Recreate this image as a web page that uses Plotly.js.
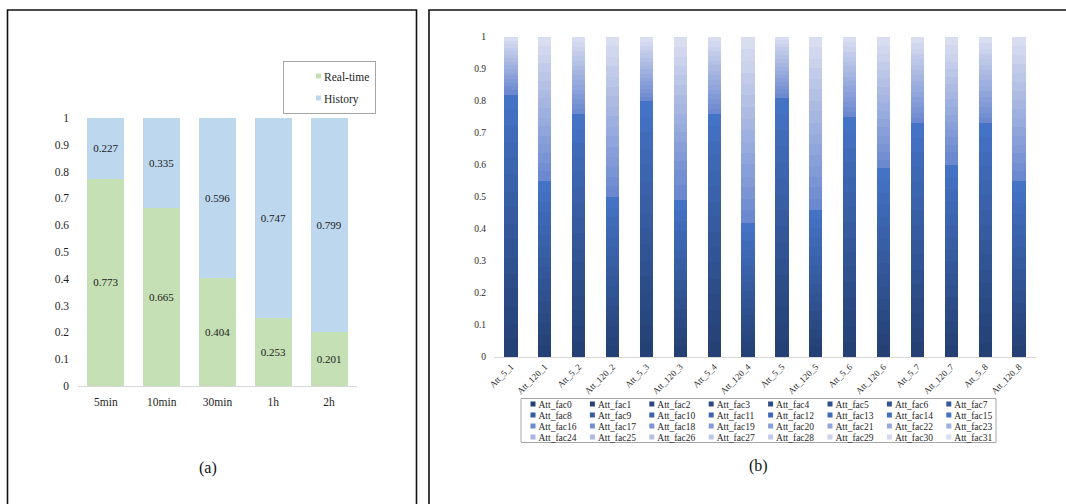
<!DOCTYPE html>
<html>
<head>
<meta charset="utf-8">
<script src="https://cdn.plot.ly/plotly-3.0.1.min.js"></script>
<style>
  html, body { margin: 0; padding: 0; background: #ffffff; }
  #chart { width: 1066px; height: 504px; }
</style>
</head>
<body>
<div id="chart"></div>
<script>
// ---------- Panel (a) data ----------
const windows  = ['5min', '10min', '30min', '1h', '2h'];
const realTime = [0.773, 0.665, 0.404, 0.253, 0.201];
const history  = [0.227, 0.335, 0.596, 0.747, 0.799];

// ---------- Panel (b) data ----------
const attCategories = ['Att_5_1', 'Att_120_1', 'Att_5_2', 'Att_120_2', 'Att_5_3', 'Att_120_3', 'Att_5_4', 'Att_120_4',
                       'Att_5_5', 'Att_120_5', 'Att_5_6', 'Att_120_6', 'Att_5_7', 'Att_120_7', 'Att_5_8', 'Att_120_8'];
const factorNames = ['Att_fac0', 'Att_fac1', 'Att_fac2', 'Att_fac3', 'Att_fac4', 'Att_fac5', 'Att_fac6', 'Att_fac7',
                     'Att_fac8', 'Att_fac9', 'Att_fac10', 'Att_fac11', 'Att_fac12', 'Att_fac13', 'Att_fac14', 'Att_fac15',
                     'Att_fac16', 'Att_fac17', 'Att_fac18', 'Att_fac19', 'Att_fac20', 'Att_fac21', 'Att_fac22', 'Att_fac23',
                     'Att_fac24', 'Att_fac25', 'Att_fac26', 'Att_fac27', 'Att_fac28', 'Att_fac29', 'Att_fac30', 'Att_fac31'];

// attention share of each factor (fac0 ... fac31) for every bar
const att_5_1   = [0.055,0.048,0.052,0.060,0.045,0.050,0.058,0.047,0.053,0.049,0.056,0.051,0.044,0.057,0.050,0.045,
                   0.014,0.012,0.010,0.013,0.011,0.009,0.012,0.010,0.011,0.013,0.010,0.012,0.009,0.011,0.010,0.013];
const att_120_1 = [0.038,0.032,0.036,0.030,0.040,0.033,0.035,0.037,0.031,0.034,0.036,0.032,0.038,0.033,0.030,0.035,
                   0.030,0.026,0.032,0.028,0.025,0.030,0.027,0.029,0.031,0.026,0.028,0.030,0.027,0.025,0.029,0.027];
const att_5_2   = [0.050,0.046,0.052,0.044,0.049,0.055,0.043,0.047,0.051,0.045,0.048,0.050,0.046,0.044,0.042,0.048,
                   0.016,0.014,0.017,0.015,0.013,0.016,0.014,0.015,0.017,0.013,0.015,0.016,0.014,0.015,0.013,0.017];
const att_120_2 = [0.033,0.029,0.035,0.030,0.032,0.028,0.034,0.031,0.030,0.033,0.029,0.032,0.030,0.031,0.028,0.035,
                   0.034,0.030,0.033,0.029,0.031,0.035,0.028,0.032,0.030,0.034,0.029,0.031,0.033,0.030,0.032,0.029];
const att_5_3   = [0.052,0.047,0.055,0.049,0.051,0.046,0.053,0.050,0.048,0.054,0.045,0.052,0.049,0.051,0.047,0.051,
                   0.013,0.011,0.014,0.012,0.013,0.010,0.012,0.014,0.011,0.013,0.012,0.014,0.011,0.013,0.012,0.015];
const att_120_3 = [0.031,0.028,0.033,0.030,0.029,0.032,0.027,0.031,0.030,0.034,0.029,0.031,0.028,0.032,0.030,0.035,
                   0.048,0.045,0.030,0.028,0.032,0.029,0.027,0.031,0.030,0.028,0.033,0.029,0.030,0.028,0.031,0.031];
const att_5_4   = [0.049,0.053,0.045,0.050,0.047,0.052,0.048,0.046,0.051,0.044,0.049,0.047,0.050,0.043,0.048,0.038,
                   0.015,0.017,0.014,0.016,0.013,0.015,0.016,0.014,0.015,0.017,0.013,0.016,0.014,0.015,0.016,0.014];
const att_120_4 = [0.027,0.024,0.028,0.025,0.026,0.023,0.027,0.025,0.028,0.024,0.026,0.027,0.025,0.029,0.026,0.030,
                   0.038,0.035,0.037,0.034,0.039,0.036,0.033,0.037,0.035,0.038,0.036,0.034,0.037,0.035,0.038,0.038];
const att_5_5   = [0.054,0.049,0.052,0.047,0.055,0.050,0.048,0.053,0.051,0.046,0.052,0.049,0.054,0.050,0.047,0.053,
                   0.012,0.014,0.011,0.013,0.012,0.010,0.013,0.012,0.011,0.014,0.012,0.011,0.013,0.010,0.012,0.010];
const att_120_5 = [0.030,0.027,0.029,0.031,0.026,0.028,0.030,0.027,0.032,0.028,0.029,0.027,0.030,0.028,0.029,0.029,
                   0.034,0.036,0.032,0.035,0.033,0.037,0.031,0.034,0.036,0.033,0.035,0.032,0.034,0.030,0.038,0.030];
const att_5_6   = [0.048,0.045,0.050,0.044,0.047,0.049,0.046,0.043,0.051,0.047,0.045,0.048,0.046,0.044,0.050,0.047,
                   0.016,0.015,0.017,0.014,0.016,0.018,0.015,0.014,0.016,0.017,0.015,0.016,0.014,0.015,0.016,0.016];
const att_120_6 = [0.038,0.035,0.039,0.036,0.034,0.037,0.040,0.035,0.038,0.036,0.037,0.034,0.039,0.036,0.038,0.038,
                   0.027,0.024,0.026,0.025,0.028,0.023,0.026,0.027,0.024,0.025,0.026,0.027,0.024,0.026,0.025,0.027];
const att_5_7   = [0.047,0.044,0.046,0.048,0.043,0.045,0.049,0.044,0.047,0.046,0.042,0.048,0.045,0.047,0.043,0.046,
                   0.017,0.016,0.018,0.015,0.017,0.016,0.019,0.015,0.017,0.018,0.016,0.017,0.015,0.018,0.016,0.020];
const att_120_7 = [0.038,0.036,0.040,0.037,0.035,0.039,0.037,0.038,0.036,0.040,0.037,0.035,0.038,0.039,0.036,0.039,
                   0.040,0.022,0.025,0.023,0.024,0.022,0.026,0.023,0.024,0.025,0.022,0.023,0.024,0.025,0.026,0.026];
const att_5_8   = [0.045,0.048,0.044,0.047,0.046,0.043,0.049,0.045,0.047,0.044,0.048,0.046,0.045,0.043,0.047,0.043,
                   0.018,0.016,0.017,0.015,0.018,0.016,0.017,0.019,0.015,0.016,0.017,0.018,0.016,0.015,0.017,0.020];
const att_120_8 = [0.035,0.033,0.036,0.034,0.032,0.037,0.035,0.033,0.036,0.034,0.035,0.032,0.036,0.034,0.033,0.035,
                   0.030,0.027,0.029,0.028,0.026,0.030,0.028,0.027,0.029,0.026,0.028,0.030,0.027,0.029,0.028,0.028];

const attBars = [att_5_1, att_120_1, att_5_2, att_120_2, att_5_3, att_120_3, att_5_4, att_120_4,
                 att_5_5, att_120_5, att_5_6, att_120_6, att_5_7, att_120_7, att_5_8, att_120_8];

// ---------- styling ----------
const W = 1066, H = 504;
const px = v => v / W;
const py = v => 1 - v / H;
const FONT = 'Liberation Serif';

function mix(a, b, t) {
  return 'rgb(' + a.map((c, i) => Math.round(c + (b[i] - c) * t)).join(',') + ')';
}
const darkA = [37, 64, 116], darkB = [68, 114, 196];
const lightA = [108, 137, 208], lightB = [216, 221, 240];
const factorColors = factorNames.map((_, i) =>
  i < 16 ? mix(darkA, darkB, i / 15) : mix(lightA, lightB, (i - 16) / 15));

// ---------- traces ----------
const traces = [];
traces.push({
  type: 'bar', name: 'Real-time', x: windows, y: realTime,
  xaxis: 'x', yaxis: 'y', width: 0.66,
  marker: { color: '#c5e0b4', line: { width: 0 } },
  text: realTime.map(v => v.toFixed(3)), textposition: 'inside', insidetextanchor: 'middle',
  textangle: 0, textfont: { family: FONT, size: 11, color: '#1a1a1a' },
  legend: 'legend', legendgroup: 'rt', hoverinfo: 'skip'
});
traces.push({
  type: 'bar', name: 'History', x: windows, y: history,
  xaxis: 'x', yaxis: 'y', width: 0.66,
  marker: { color: '#bdd7ee', line: { width: 0 } },
  text: history.map(v => v.toFixed(3)), textposition: 'inside', insidetextanchor: 'middle',
  textangle: 0, textfont: { family: FONT, size: 11, color: '#1a1a1a' },
  legend: 'legend', legendgroup: 'hi', hoverinfo: 'skip'
});
factorNames.forEach((name, f) => {
  const t = {
    type: 'bar', name: name, x: attCategories, y: attBars.map(b => b[f]),
    xaxis: 'x2', yaxis: 'y2', width: 0.39,
    marker: { color: factorColors[f], line: { width: 0 } },
    legend: 'legend' + (2 + Math.floor(f / 8)), hoverinfo: 'skip'
  };
  if (f % 8 === 7) t.legendwidth = 45;   // last column: leave room for the full label
  traces.push(t);
});

// ---------- layout ----------
const rowLegend = (rowCenter) => ({
  orientation: 'h', x: px(498.5), xanchor: 'left', y: py(rowCenter - 14.5), yanchor: 'top',
  entrywidth: 14.4, entrywidthmode: 'pixels', traceorder: 'normal',
  font: { family: FONT, size: 9.5, color: '#1f1f1f' },
  bgcolor: 'rgba(0,0,0,0)', borderwidth: 0
});

const layout = {
  width: W, height: H,
  margin: { l: 0, r: 0, t: 0, b: 0 },
  paper_bgcolor: '#ffffff', plot_bgcolor: 'rgba(0,0,0,0)',
  barmode: 'stack', showlegend: true,
  font: { family: FONT, color: '#1f1f1f' },
  xaxis: {
    domain: [px(78), px(357)], anchor: 'y', type: 'category', range: [-0.5, 4.5],
    showline: true, linecolor: '#d9d9d9', linewidth: 1, ticks: '', showgrid: false, zeroline: false,
    tickfont: { family: FONT, size: 11.5, color: '#1f1f1f' }, ticklabelstandoff: 5, fixedrange: true
  },
  yaxis: {
    domain: [py(386), py(118)], anchor: 'x', range: [0, 1], tick0: 0, dtick: 0.1,
    showgrid: false, zeroline: false, showline: false, ticks: '',
    tickfont: { family: FONT, size: 11.5, color: '#1f1f1f' }, ticklabelstandoff: 8, fixedrange: true
  },
  xaxis2: {
    domain: [px(494), px(1036)], anchor: 'y2', type: 'category', range: [-0.5, 15.5],
    showline: true, linecolor: '#d9d9d9', linewidth: 1, ticks: '', showgrid: false, zeroline: false,
    tickangle: -45, tickfont: { family: FONT, size: 9, color: '#1f1f1f' }, fixedrange: true
  },
  yaxis2: {
    domain: [py(357), py(37)], anchor: 'x2', range: [0, 1], tick0: 0, dtick: 0.1,
    showgrid: false, zeroline: false, showline: false, ticks: '',
    tickfont: { family: FONT, size: 9.5, color: '#1f1f1f' }, ticklabelstandoff: 7, fixedrange: true
  },
  legend: {
    orientation: 'v', x: px(283), xanchor: 'left', y: py(60.5), yanchor: 'top',
    traceorder: 'grouped', tracegroupgap: 3,
    font: { family: FONT, size: 11.5, color: '#1f1f1f' },
    bgcolor: '#ffffff', bordercolor: '#a6a6a6', borderwidth: 1
  },
  legend2: rowLegend(404),
  legend3: rowLegend(415),
  legend4: rowLegend(426),
  legend5: rowLegend(437),
  shapes: [
    { type: 'rect', xref: 'paper', yref: 'paper', x0: px(7.5), x1: px(416.5), y0: py(10), y1: py(520),
      line: { color: '#111111', width: 1.6 }, fillcolor: 'rgba(0,0,0,0)' },
    { type: 'rect', xref: 'paper', yref: 'paper', x0: px(429), x1: px(1080), y0: py(10), y1: py(520),
      line: { color: '#111111', width: 1.6 }, fillcolor: 'rgba(0,0,0,0)' },
    { type: 'rect', xref: 'paper', yref: 'paper', x0: px(521), x1: px(996), y0: py(398.5), y1: py(442.5),
      line: { color: '#a6a6a6', width: 1 }, fillcolor: 'rgba(0,0,0,0)' }
  ],
  annotations: [
    { xref: 'paper', yref: 'paper', x: px(208), y: py(468), text: '(a)', showarrow: false,
      xanchor: 'center', yanchor: 'middle', font: { family: FONT, size: 16, color: '#111111' } },
    { xref: 'paper', yref: 'paper', x: px(758), y: py(466), text: '(b)', showarrow: false,
      xanchor: 'center', yanchor: 'middle', font: { family: FONT, size: 16, color: '#111111' } }
  ]
};

// small square legend swatches placed close to their labels (as in the original figure)
const SWATCH = 'M17,2.5H12V-2.5H17Z';
function fixSwatches() {
  document.querySelectorAll('g.legendpoints path').forEach(p => {
    if (p.getAttribute('d') !== SWATCH) p.setAttribute('d', SWATCH);
  });
}

const gdEl = document.getElementById('chart');
Plotly.newPlot(gdEl, traces, layout, { displayModeBar: false }).then(gd => {
  fixSwatches();
  gd.on('plotly_afterplot', fixSwatches);
  const obs = new MutationObserver(() => fixSwatches());
  obs.observe(gd, { subtree: true, childList: true, attributes: true, attributeFilter: ['d'] });
  setTimeout(fixSwatches, 50);
  setTimeout(fixSwatches, 300);
});
</script>
</body>
</html>
